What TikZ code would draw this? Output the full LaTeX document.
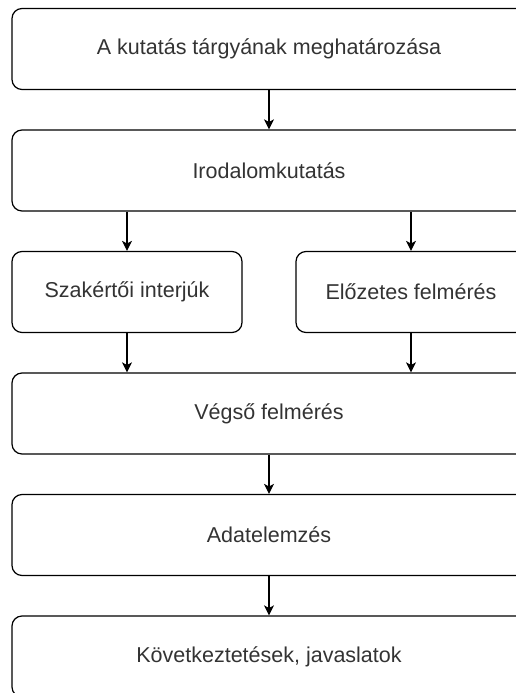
\documentclass[tikz,border=0pt]{standalone}
\usepackage{fontspec}
\setmainfont{Liberation Sans}
\usetikzlibrary{arrows.meta, positioning}
\definecolor{textgray}{RGB}{51,51,51}

\begin{document}
\begin{tikzpicture}[x=1pt, y=1pt,
    stage/.style={draw, line width=1.2pt, rounded corners=10pt, minimum height=81pt,
        text=textgray, font=\fontsize{21.5}{26}\selectfont, inner sep=0pt},
    wide/.style={stage, minimum width=514pt},
    half/.style={stage, minimum width=230pt},
    flow/.style={draw, line width=1.2pt, -{Stealth[length=10pt, width=10pt, inset=2.5pt]}}]
                \useasboundingbox (0,0) rectangle (516,-693);
                \clip (0,0) rectangle (516,-693);

                \node [wide] (B1) at (269,-49) {A kutatás tárgyának meghatározása};
                \node [wide] (B2) at (269,-170.5) {Irodalomkutatás};
                \node [half] (B3a) at (127,-292) {Szakértői interjúk};
                \node [half] (B3b) at (411,-292) {Előzetes felmérés};
                \node [wide] (B4) at (269,-413.5) {Végső felmérés};
                \node [wide] (B5) at (269,-535) {Adatelemzés};
                \node [wide] (B6) at (269,-656.5) {Következtetések, javaslatok};

                \draw [flow] (B1) -- (B2);
                \draw [flow] (B3a.north |- B2.south) -- (B3a.north);
                \draw [flow] (B3b.north |- B2.south) -- (B3b.north);
                \draw [flow] (B3a.south) -- (B3a.south |- B4.north);
                \draw [flow] (B3b.south) -- (B3b.south |- B4.north);
                \draw [flow] (B4) -- (B5);
                \draw [flow] (B5) -- (B6);
            \end{tikzpicture}
\end{document}
